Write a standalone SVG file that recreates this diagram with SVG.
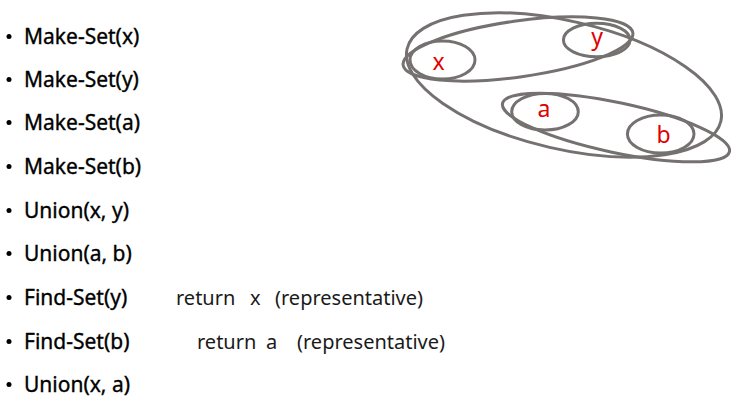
<svg xmlns="http://www.w3.org/2000/svg" width="736" height="408" viewBox="0 0 736 408">
<style>
.lbl{font-family:"Noto Sans","Liberation Sans",sans-serif;font-size:21px;fill:#000;stroke:#000;stroke-width:0.35;}
.ret{font-family:"Noto Sans","Liberation Sans",sans-serif;font-size:20px;fill:#1a1a1a;}
.bul{fill:#000;}
.set{fill:none;stroke:#767171;stroke-width:3;}
.el{font-family:"Noto Sans","Liberation Sans",sans-serif;font-size:23px;fill:#e00000;text-anchor:middle;}
</style>
<rect width="736" height="408" fill="#fff"/>
<g id="list">
<circle class="bul" cx="9" cy="36.5" r="2.5"/><text class="lbl" x="24" y="44">Make-Set(x)</text>
<circle class="bul" cx="9" cy="79.5" r="2.5"/><text class="lbl" x="24" y="87">Make-Set(y)</text>
<circle class="bul" cx="9" cy="122.5" r="2.5"/><text class="lbl" x="24" y="130">Make-Set(a)</text>
<circle class="bul" cx="9" cy="166.5" r="2.5"/><text class="lbl" x="24" y="174">Make-Set(b)</text>
<circle class="bul" cx="9" cy="210.5" r="2.5"/><text class="lbl" x="24" y="218">Union(x, y)</text>
<circle class="bul" cx="9" cy="253.5" r="2.5"/><text class="lbl" x="24" y="261">Union(a, b)</text>
<circle class="bul" cx="9" cy="297.5" r="2.5"/><text class="lbl" x="24" y="305">Find-Set(y)</text>
<circle class="bul" cx="9" cy="341.5" r="2.5"/><text class="lbl" x="24" y="349">Find-Set(b)</text>
<circle class="bul" cx="9" cy="384.5" r="2.5"/><text class="lbl" x="24" y="392">Union(x, a)</text>
<text class="ret" y="305"><tspan x="176">return</tspan><tspan x="250">x</tspan><tspan x="275">(representative)</tspan></text>
<text class="ret" y="349"><tspan x="197">return</tspan><tspan x="266">a</tspan><tspan x="297">(representative)</tspan></text>
</g>
<g id="sets">
<ellipse id="set-xyab" class="set" cx="564" cy="85" rx="161" ry="64" transform="rotate(13 564 85)"/>
<ellipse id="set-xy" class="set" cx="518" cy="49" rx="116" ry="28" transform="rotate(-8 518 49)"/>
<ellipse id="set-ab" class="set" cx="616" cy="127.5" rx="116" ry="25" transform="rotate(12 616 127.5)"/>
</g>
<g id="node-x"><ellipse class="set" cx="442.5" cy="60" rx="32.5" ry="19"/><text class="el" x="438.5" y="70">x</text></g>
<g id="node-y"><ellipse class="set" cx="596.7" cy="40" rx="33.3" ry="16.7"/><text class="el" x="597" y="45">y</text></g>
<g id="node-a"><ellipse class="set" cx="545" cy="111.7" rx="33.3" ry="18.3"/><text class="el" x="544" y="117">a</text></g>
<g id="node-b"><ellipse class="set" cx="660.7" cy="134" rx="33.3" ry="19"/><text class="el" x="663.5" y="143">b</text></g>
</svg>
